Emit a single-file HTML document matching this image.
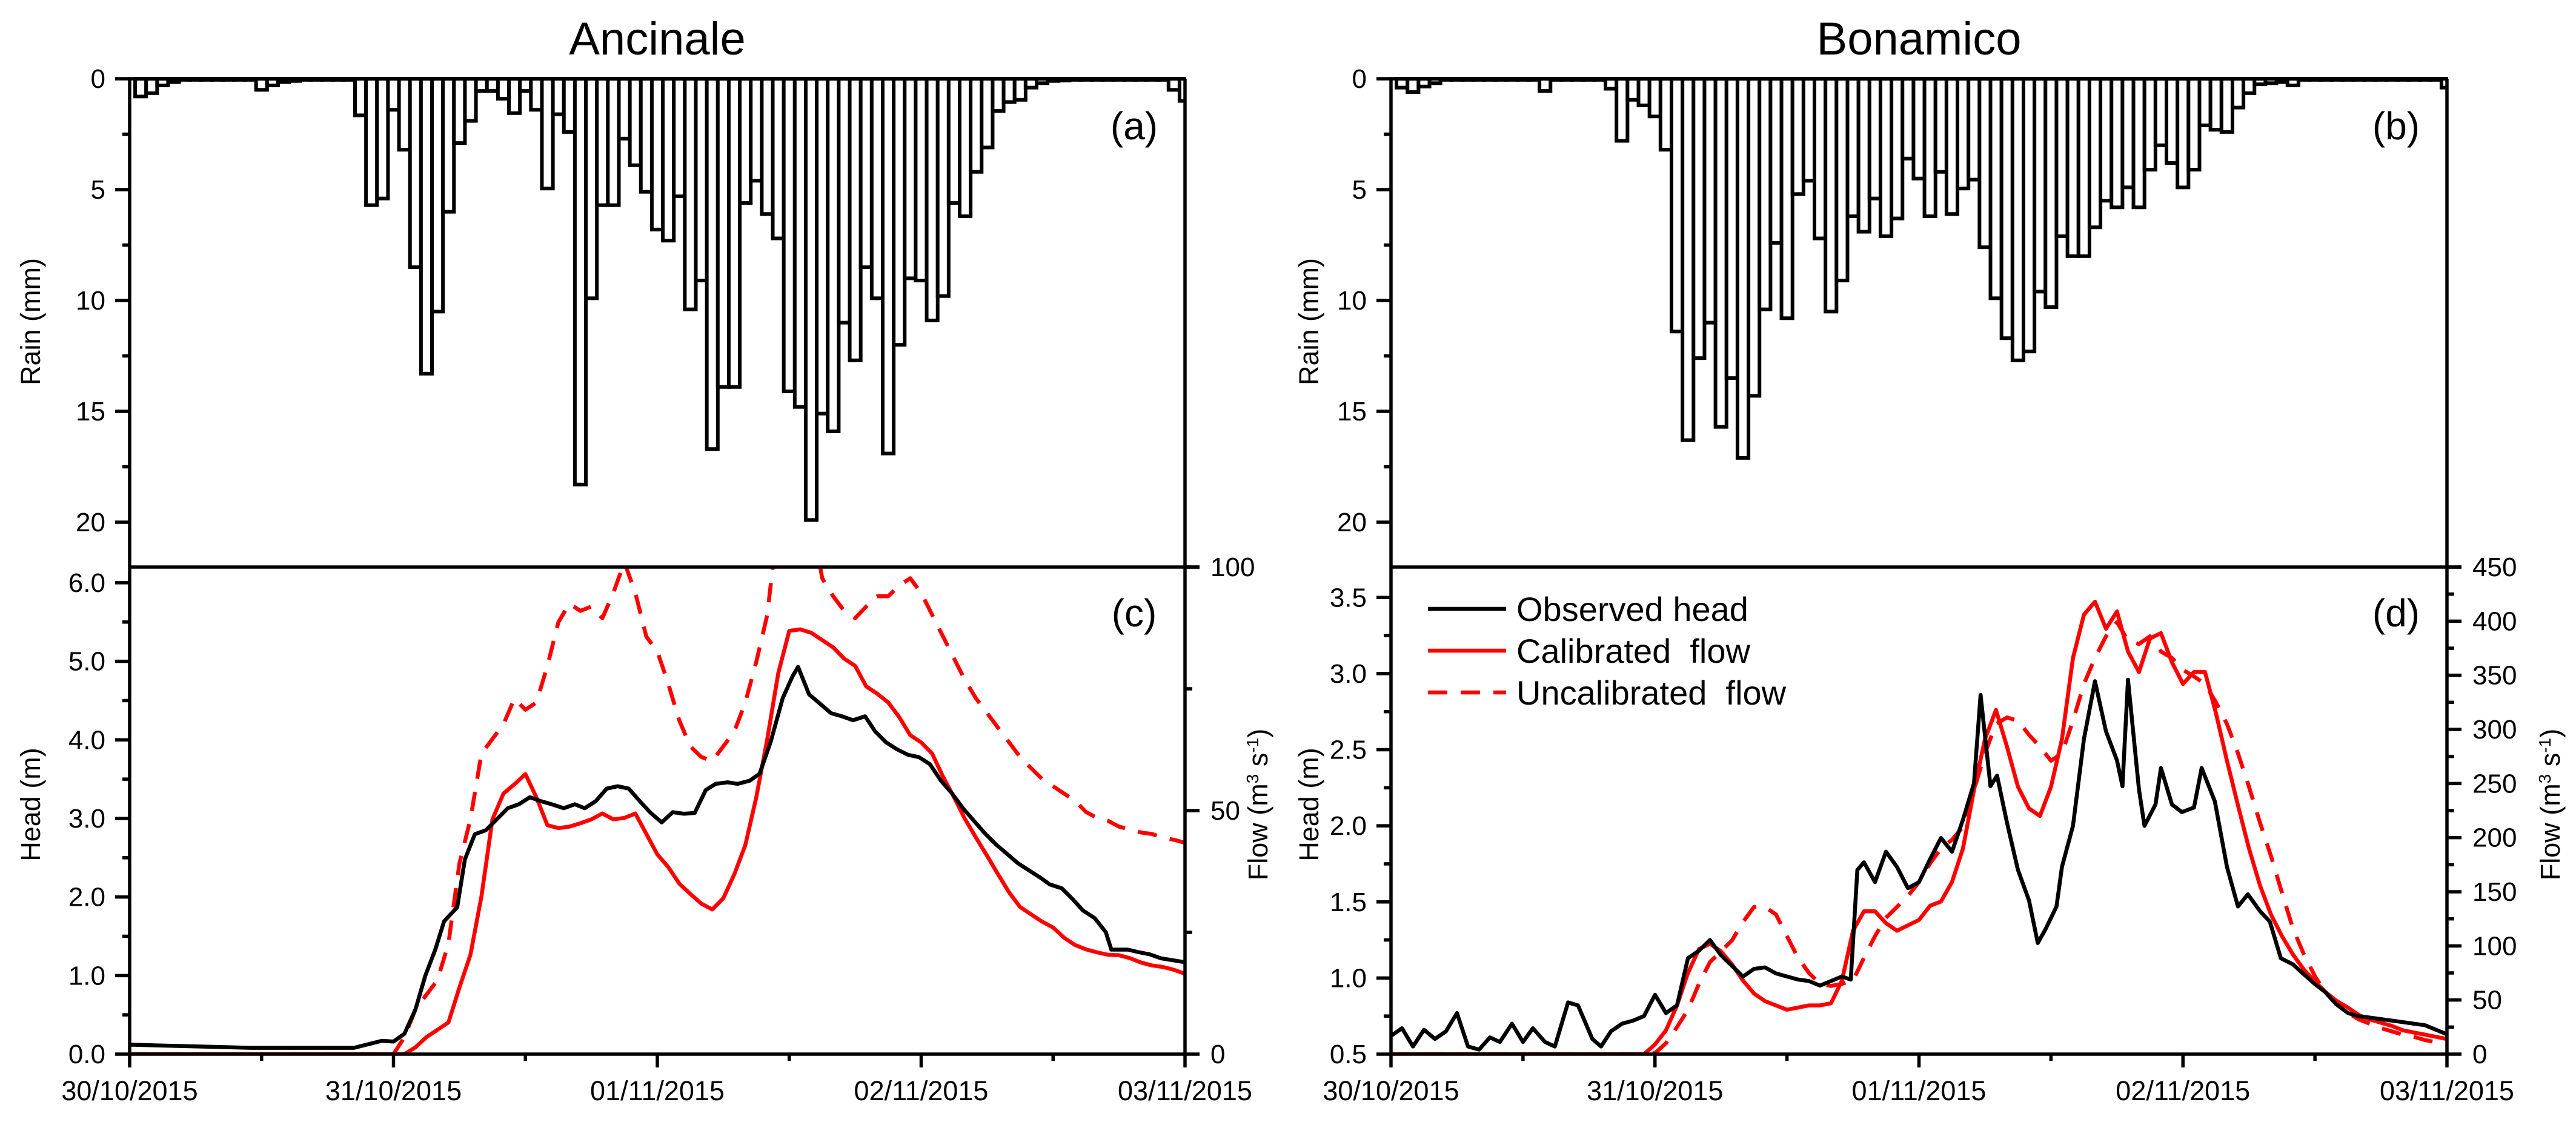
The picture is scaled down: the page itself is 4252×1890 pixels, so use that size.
<!DOCTYPE html>
<html><head><meta charset="utf-8"><style>
html,body{margin:0;padding:0;background:#fff;}
svg{display:block;font-family:"Liberation Sans",Arial,sans-serif;}
</style></head>
<body>
<svg id="fig" xmlns="http://www.w3.org/2000/svg" width="4252" height="1890" viewBox="0 0 4252 1890">
<rect x="0" y="0" width="4252" height="1890" fill="#fff"/>
</svg>
<script>
// ---------- data ----------
const dayLabels = ["30/10/2015","31/10/2015","01/11/2015","02/11/2015","03/11/2015"];
const rainTicks = [0,5,10,15,20];

const ancRain = [0.8,0.65,0.3,0.15,0.05,0.05,0.05,0.05,0.05,0.05,0.05,0.5,0.3,0.15,0.1,0.05,0.05,0.05,0.05,0.05,
1.65,5.7,5.4,1.4,3.2,8.5,13.3,10.5,6.0,2.9,
1.9,0.55,0.55,0.9,1.55,0.55,1.4,4.95,1.6,2.4,
18.3,9.9,5.7,5.7,2.7,3.9,5.1,6.8,7.3,5.3,
10.4,9.1,16.7,13.9,13.9,5.6,4.6,6.1,7.2,14.1,
14.8,19.9,15.1,15.9,11.0,12.7,8.5,9.9,16.9,12.0,
9.0,9.1,10.9,9.8,5.6,6.2,4.2,3.1,1.45,1.05,
0.95,0.4,0.2,0.1,0.08,0.05,0.05,0.05,0.05,0.05,0.05,0.05,0.05,0.05,0.5,1.0];

const bonRain = [0.4,0.6,0.35,0.2,0.05,0.05,0.05,0.05,0.05,0.05,0.05,0.05,0.05,0.55,0.05,0.05,0.05,0.05,0.05,0.45,
2.8,0.95,1.2,1.7,3.2,
11.4,16.3,12.6,11.0,15.7,13.5,17.1,14.3,10.4,7.4,
10.8,5.2,4.6,7.2,10.5,9.1,6.2,6.9,5.4,7.1,
6.3,3.6,4.5,6.2,4.2,6.1,4.95,4.55,7.6,9.9,
11.7,12.7,12.3,9.6,10.3,7.1,8.0,8.0,6.7,5.5,
5.8,4.9,5.8,4.1,3.0,3.8,4.9,4.1,2.1,2.3,
2.4,1.3,0.65,0.25,0.2,0.15,0.3,
0.05,0.05,0.05,0.05,0.05,0.05,0.05,0.05,0.05,0.05,0.05,0.05,0.05,0.4];

const ancHeadHours = [0,11,20.4,22.95,24,25,26,26.9,27.8,28.6,29.8,30.5,31.4,32.4,33.4,34.4,35.4,36.4,37.4,38.4,39.5,40.5,41.4,42.4,43.4,44.4,45.4,46.4,47.4,48.4,49.4,50.4,51.4,52.4,53.3,54.4,55.3,56.4,57.3,58.3,59.4,60.3,60.8,61.8,62.8,63.8,64.8,65.8,66.9,67.8,68.8,69.8,70.8,71.8,72.8,73.8,74.8,75.8,76.8,77.8,78.8,79.8,80.8,81.8,82.8,83.7,84.8,85.8,86.7,87.8,88.8,89.3,90.8,91.7,92.8,93.8,96];
const ancHead = [0.12,0.08,0.08,0.17,0.16,0.26,0.57,1.0,1.33,1.69,1.87,2.48,2.8,2.85,2.99,3.13,3.18,3.27,3.22,3.18,3.13,3.18,3.13,3.22,3.38,3.41,3.38,3.22,3.07,2.95,3.08,3.06,3.07,3.36,3.44,3.46,3.44,3.48,3.57,3.97,4.53,4.81,4.93,4.58,4.46,4.34,4.30,4.25,4.30,4.11,3.97,3.88,3.81,3.78,3.69,3.48,3.32,3.13,2.97,2.81,2.67,2.55,2.43,2.34,2.25,2.16,2.11,1.97,1.83,1.73,1.55,1.33,1.33,1.30,1.27,1.22,1.17];

const ancCal = [0,0,0,0,0,0,0,0,0,0,0,0,0,0,0,0,0,0,0,0,0,0,0,0,0,0,
1.4,3.5,5,6.5,13.7,20.4,32.4,48.2,53.5,55.4,
57.5,52.7,47,46.4,46.7,47.4,48.2,49.4,48.2,48.5,
49.4,45.2,41,38.4,35,32.9,30.9,29.7,32,36.9,
42.9,52.7,64.7,78.2,86.9,87.2,86.5,85,83.5,81.2,
79.7,75.5,74,72.2,69.2,65.5,64,61.7,56.9,52.7,
48.2,44.4,40.7,36.9,33.2,30.2,28.7,27.2,26,23.9,
22.4,21.5,20.9,20.4,20.3,19.7,18.8,18.2,17.9,17.3,16.5];

const ancUncal = [0,0,0,0,0,0,0,0,0,0,0,0,0,0,0,0,0,0,0,0,0,0,0,0,0,
3.5,9.2,12.2,15.2,22.7,39.2,48.2,61.7,64.7,67.7,
73,70.7,72.2,79.7,88.7,92.5,91,91.9,89.5,94.7,
101,94.7,85.7,82.7,76,68.5,63.2,61,60.2,63.2,
66.2,72.2,80.5,90.2,110,110,110,110,97.7,94,
91,89.5,91.9,94,94,96.2,97.7,94.7,90.2,85.7,
81.2,76.7,73,70,67,64,61,58.7,56.5,55,
53.5,52,49.7,48.5,47.9,46.7,46.1,45.5,45.2,44.4,44,43.4];

const bonHeadHours = [0,1,2,3,4,5,6,7,8,9,9.9,11,12,12.9,14,14.9,16.1,17,18.3,19.1,20,21,22,23,24,25,26,27,28,29,30,31,32,33,34,35,36,37,38,39,40,41,41.8,42.4,43,44,45,46,47,48,49,50,51,52,53,53.6,54.5,55.1,56,57,58,58.8,59.5,60.5,61,62,63,64,65,66,66.5,67,68,68.5,69.5,70,71,71.9,73,73.7,74.9,76,77,77.9,79,79.9,80.9,82,82.9,84,84.9,85.9,87,87.9,89,90,91,92,93,94,95,96];
const bonHead = [0.62,0.67,0.55,0.66,0.6,0.65,0.77,0.55,0.53,0.61,0.58,0.70,0.58,0.67,0.58,0.55,0.84,0.82,0.6,0.55,0.65,0.7,0.72,0.75,0.89,0.77,0.82,1.13,1.18,1.25,1.15,1.08,1.01,1.06,1.07,1.03,1.01,0.99,0.98,0.95,0.98,1.01,0.99,1.71,1.76,1.63,1.83,1.73,1.59,1.63,1.78,1.92,1.83,2.04,2.28,2.86,2.26,2.33,2.02,1.71,1.51,1.23,1.32,1.47,1.73,2.0,2.57,2.95,2.62,2.43,2.26,2.96,2.24,2.0,2.14,2.38,2.14,2.09,2.12,2.38,2.16,1.73,1.47,1.55,1.44,1.37,1.13,1.09,1.03,0.96,0.91,0.83,0.77,0.75,0.74,0.73,0.72,0.71,0.70,0.69,0.66,0.63];

const bonCal = [0,0,0,0,0,0,0,0,0,0,0,0,0,0,0,0,0,0,0,0,0,0,0,
0,9,22,45,
75,97,102,95,83,68,56,49,45,41,
43,45,45,47,68,114,132,132,121,114,
119,124,137,141,159,190,244,291,318,284,
247,227,220,247,291,366,406,418,393,409,
372,353,384,389,362,342,353,353,315,271,
230,190,156,129,109,92,78,67,57,49,
43,36,32,29,26,22,20,18,16,14];

const bonUncal = [0,0,0,0,0,0,0,0,0,0,0,0,0,0,0,0,0,0,0,0,0,0,0,0,
1,10,25,
41,65,85,95,105,122,136,136,129,109,
89,75,65,63,65,68,89,109,126,136,
146,159,176,190,198,210,244,278,305,311,
308,295,284,271,278,308,342,366,386,399,
382,379,386,372,366,355,349,342,325,305,
278,247,214,183,149,116,92,72,56,47,
38,32,28,24,21,18,16,13,11,9];

const ancHeadTicks = ["0.0","1.0","2.0","3.0","4.0","5.0","6.0"];
const ancFlowTicks = [0,50,100];
const bonHeadTicks = ["0.5","1.0","1.5","2.0","2.5","3.0","3.5"];
const bonFlowTicks = [0,50,100,150,200,250,300,350,400,450];

// ---------- drawing ----------
const NS = "http://www.w3.org/2000/svg";
const svg = document.getElementById("fig");
function mk(tag, attrs, parent){
  const e = document.createElementNS(NS, tag);
  for (const k in attrs) e.setAttribute(k, attrs[k]);
  (parent||svg).appendChild(e);
  return e;
}
const Y_R0 = 130, Y_R20 = 862, Y_MID = 936, Y_BOT = 1740;
const HOURS = 96;
const FS = 44;

function drawPanel(p){
  const g = mk("g", {});
  
  
  const xs = h => p.x0 + (p.x1 - p.x0) * h / HOURS;
  const yr = v => Y_R0 + (Y_R20 - Y_R0) * v / 20;
  const yh = v => Y_BOT - (Y_BOT - Y_MID) * (v - p.hMin) / (p.hMax - p.hMin);
  const yf = v => Y_BOT - (Y_BOT - Y_MID) * v / p.fMax;

  const defs = mk("defs", {}, g);
  const cpTop = mk("clipPath", {id: p.key + "-cpt"}, defs);
  mk("rect", {x: p.x0, y: Y_R0 - 5, width: p.x1 - p.x0, height: Y_MID - Y_R0 + 5}, cpTop);
  const cpBot = mk("clipPath", {id: p.key + "-cpb"}, defs);
  mk("rect", {x: p.x0, y: Y_MID, width: p.x1 - p.x0, height: Y_BOT - Y_MID}, cpBot);

  const t = mk("text", {x: (p.x0 + p.x1) / 2, y: 90, "text-anchor": "middle", "font-size": 76, fill: "#000"}, g);
  t.textContent = p.title;
  
  

  const bg = mk("g", {"clip-path": "url(#" + p.key + "-cpt)"}, g);
  
  
  p.rain.forEach((v, i) => {
    const xa = xs(i + 0.5), xb = xs(i + 1.5);
    const r = mk("rect", {x: xa, y: yr(0), width: xb - xa, height: Math.max(yr(v) - yr(0), 0.5), fill: "#fff", stroke: "#000", "stroke-width": 6}, bg);
    
    
  });

  const lg = mk("g", {"clip-path": "url(#" + p.key + "-cpb)", fill: "none", "stroke-linejoin": "round"}, g);
  function line(hours, vals, yfn, color, dash, name){
    let d = "";
    vals.forEach((v, i) => { d += (i ? "L" : "M") + xs(hours[i]).toFixed(1) + "," + yfn(v).toFixed(1); });
    const a = {d: d, stroke: color, "stroke-width": 6.5};
    if (dash) a["stroke-dasharray"] = dash;
    const pe = mk("path", a, lg);
    
    
  }
  const hourIdx = p.cal.map((_, i) => i);
  line(hourIdx, p.uncal, yf, "#ff0000", "32 22", p.key + "-uncalibrated-flow");
  line(hourIdx, p.cal, yf, "#ff0000", null, p.key + "-calibrated-flow");
  line(p.headHours, p.head, yh, "#000", null, p.key + "-observed-head");

  const ax = mk("g", {stroke: "#000", "stroke-width": 5.5, fill: "none"}, g);
  
  
  mk("line", {x1: p.x0, y1: Y_R0, x2: p.x0, y2: Y_BOT}, ax);
  mk("line", {x1: p.x1, y1: Y_R0, x2: p.x1, y2: Y_BOT}, ax);
  mk("line", {x1: p.x0 - 2, y1: Y_R0, x2: p.x1 + 2, y2: Y_R0}, ax);
  mk("line", {x1: p.x0 - 2, y1: Y_MID, x2: p.x1 + 24, y2: Y_MID}, ax);
  mk("line", {x1: p.x0 - 2, y1: Y_BOT, x2: p.x1 + 2, y2: Y_BOT}, ax);

  for (let v = 0; v <= 22; v += 2.5) {
    const major = rainTicks.indexOf(v) >= 0;
    mk("line", {x1: p.x0 - (major ? 24 : 12), y1: yr(v), x2: p.x0, y2: yr(v)}, ax);
  }
  rainTicks.forEach(v => {
    const tt = mk("text", {x: p.x0 - 40, y: yr(v) + 15, "text-anchor": "end", "font-size": FS}, g);
    tt.textContent = v;
    
    
  });

  const hStep = (p.hMax === 6.2) ? 1 : 0.5;
  for (let v = p.hMin; v <= p.hMax + 1e-6; v += hStep / 2) {
    const k = Math.round((v - p.hMin) / (hStep / 2));
    const major = k % 2 === 0;
    mk("line", {x1: p.x0 - (major ? 24 : 12), y1: yh(v), x2: p.x0, y2: yh(v)}, ax);
  }
  p.headTicks.forEach(s => {
    const tt = mk("text", {x: p.x0 - 40, y: yh(parseFloat(s)) + 15, "text-anchor": "end", "font-size": FS}, g);
    tt.textContent = s;
    
    
  });

  const fStep = p.flowTicks[1] - p.flowTicks[0];
  for (let v = 0; v <= p.fMax + 1e-6; v += fStep / 2) {
    const major = Math.round(v / (fStep / 2)) % 2 === 0;
    mk("line", {x1: p.x1, y1: yf(v), x2: p.x1 + (major ? 24 : 12), y2: yf(v)}, ax);
  }
  p.flowTicks.forEach(v => {
    const tt = mk("text", {x: p.x1 + 42, y: yf(v) + 15, "text-anchor": "start", "font-size": FS}, g);
    tt.textContent = v;
    
    
  });

  for (let h = 0; h <= HOURS; h += 12) {
    const major = h % 24 === 0;
    mk("line", {x1: xs(h), y1: Y_BOT, x2: xs(h), y2: Y_BOT + (major ? 22 : 11)}, ax);
  }
  dayLabels.forEach((s, i) => {
    const tt = mk("text", {x: xs(i * 24), y: Y_BOT + 76, "text-anchor": "middle", "font-size": 45}, g);
    tt.textContent = s;
    
    
  });

  const rt = mk("text", {transform: "translate(" + p.titleX + ",531) rotate(-90)", "text-anchor": "middle", "font-size": 45}, g);
  rt.textContent = "Rain (mm)";
  
  
  const ht = mk("text", {transform: "translate(" + p.titleX + ",1328) rotate(-90)", "text-anchor": "middle", "font-size": 45}, g);
  ht.textContent = "Head (m)";
  
  
  const ft = mk("text", {transform: "translate(" + p.flowTitleX + ",1328) rotate(-90)", "text-anchor": "middle", "font-size": 45}, g);
  
  
  ft.innerHTML = 'Flow (m<tspan baseline-shift="super" font-size="28">3</tspan> s<tspan baseline-shift="super" font-size="28">-1</tspan>)';

  [[p.l1, 230], [p.l2, 1034]].forEach(([s, y]) => {
    const tt = mk("text", {x: p.x1 - 84, y: y, "text-anchor": "middle", "font-size": 64}, g);
    tt.textContent = s;
    
    
  });
}

drawPanel({key: "ancinale", title: "Ancinale", x0: 214, x1: 1956, rain: ancRain,
  headHours: ancHeadHours, head: ancHead, cal: ancCal, uncal: ancUncal,
  hMin: 0, hMax: 6.2, fMax: 100, headTicks: ancHeadTicks, flowTicks: ancFlowTicks,
  titleX: 66, flowTitleX: 2092, l1: "(a)", l2: "(c)"});
drawPanel({key: "bonamico", title: "Bonamico", x0: 2296, x1: 4039, rain: bonRain,
  headHours: bonHeadHours, head: bonHead, cal: bonCal, uncal: bonUncal,
  hMin: 0.5, hMax: 3.7, fMax: 450, headTicks: bonHeadTicks, flowTicks: bonFlowTicks,
  titleX: 2176, flowTitleX: 4225, l1: "(b)", l2: "(d)"});

const leg = mk("g", {});


const legendLabels = ["Observed head", "Calibrated  flow", "Uncalibrated  flow"];
const legendColors = ["#000", "#ff0000", "#ff0000"];
const legendDash = [null, null, "32 22"];
legendLabels.forEach((s, i) => {
  const y = 1005 + i * 69;
  const a = {x1: 2357, y1: y, x2: 2486, y2: y, stroke: legendColors[i], "stroke-width": 6.5};
  if (legendDash[i]) a["stroke-dasharray"] = legendDash[i];
  const ln = mk("line", a, leg);
  
  
  const tt = mk("text", {x: 2503, y: y + 20, "font-size": 56}, leg);
  tt.setAttribute("style", "white-space:pre");
  tt.textContent = s;
  
  
});
</script>
</body></html>
